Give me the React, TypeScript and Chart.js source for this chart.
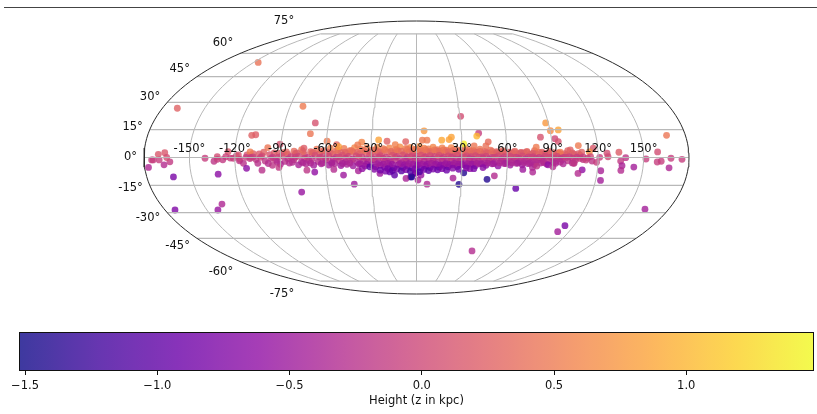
import React, { useEffect, useRef } from "react";
import { Chart, registerables } from "chart.js";

Chart.register(...registerables);

const FONT = "'DejaVu Sans'";
const lonTicks = [-150, -120, -90, -60, -30, 0, 30, 60, 90, 120, 150];
const latTicks = [75, 60, 45, 30, 15, 0, -15, -30, -45, -60, -75];
const colorTicks = [-1.5, -1, -0.5, 0, 0.5, 1];
const colorTickLabels = ["\u22121.5", "\u22121.0", "\u22120.5", "0.0", "0.5", "1.0"];
const colorMin = -1.523;
const colorMax = 1.483;
const colorTitle = "Height (z in kpc)";
const plasma = ["#0d0887", "#41049d", "#6a00a8", "#8f0da4", "#b12a90", "#cc4778", "#e16462", "#f2844b", "#fca636", "#fcce25", "#f0f921"];

// Outlying clusters
const farLon = [-145.8, -169.4, -80.9, -69.1, -71.2, -110.3, -107.7, -98.5, -90.6, -124.6, -110, -74.5, -59.5, -53, -51.6, -25.2, -19.6, -14.1, -36.4, -39, -7.2, -166.4, -170.6];
const farLat = [54, 26.7, 27.8, 18.6, 12.8, 11.9, 12.2, 5.3, 7.1, 3.1, 3, 5, 8.7, 6.9, 5.8, 9.4, 8.7, 6.9, 8.2, 6.7, 8.5, 2.6, 1.7];
const farZ = [0.42, 0.25, 0.5, 0.1, 0.45, 0.25, 0.22, 0.45, 0.1, 0.15, 0.5, 0.2, 0.5, 0.3, 0.8, 0.85, 0.25, 0.55, 0.6, 0.5, 0.25, 0.15, 0.15];

const eastLon = [30.6, 88.2, 90.2, 95.6, 41.7, 40.3, 82.8, 92.3, 94.3, 167.4, 5.1, 3.9, 7, 16.8, 21.7, 23.3, 31.3, 47.7, 46, 38.2, 107.3, 79.3, 117, 114.3, 100, 101.7, 95, 109.2, 125.9, 133.8, 159.4];
const eastLat = [22.2, 18.6, 14.4, 14.8, 13, 11.5, 10.9, 10.1, 8.5, 11.9, 14.3, 9.3, 9.3, 9.3, 9.6, 10.9, 7.3, 8.4, 6.2, 6.2, 6.4, 5.5, 5, 3, 3.7, 4, 2.8, 2.8, 2.3, 2.8, 3];
const eastZ = [0.05, 0.75, 0.65, 0.85, -0.1, 1, 0.1, 0, 0.1, 0.45, 0.75, 0.5, 0.5, 0.9, 0.85, 0.85, 1.4, 0.35, 0.4, 0.45, 0.5, 0.5, 0.15, 0.7, 0.25, 0.25, 0.5, 0.25, 0.05, 0.2, 0.05];

const rimLon = [138.2, 151.6, 168.1, 175.4, 159.1, 161.7, 134.9, 119, 136, 143.9, 167.3, 135.6, 122.3, 109.9, 107.4, 123.3, 126.5, 103.8, 112, -175, -174, -170, -163, -165, -177.5, -167, -139.7, -133.8, -131.6, -131.6, -121, -117.7, -116.6, -114.4, -112.6, -109.5];
const rimLat = [-0.1, -0.8, -0.4, -1, -2.4, -2, -1.9, -2.6, -4.4, -5.1, -5.5, -6.9, -7.1, -6.6, -8.5, -12.3, 0.4, -3, -1.4, -1.3, -1.3, -1.3, -2.3, 0, -5.3, -3.9, -0.4, -2, 0.4, -1, -0.4, 1.4, -1, -3.1, 0.1, 0.1];
const rimZ = [-0.2, -0.1, -0.1, -0.1, -0.1, -0.1, -0.15, -0.1, -0.4, -0.45, -0.35, -0.3, -0.4, -0.6, -0.3, -0.45, 0, -0.2, -0.1, -0.1, -0.1, -0.1, -0.15, 0.05, -0.35, -0.3, -0.1, -0.2, 0.05, -0.1, -0.1, 0.1, -0.1, -0.25, -0.1, -0.1];

const southLon = [163.1, 113.2, 111.1, 50.3, 67.3, 47.2, 28.6, 51.9, 24.4, 31.4, 7.1, 1, 3, -0.5, -3.2, 70.5, 77.2, 76.8, 87, 90.3, 79.6, 104.2, 35.4];
const southLat = [-28.1, -37.5, -41, -52.9, -16.6, -11.7, -14.4, -9.8, -11, -8.2, -14.3, -12.1, -9.4, -8.2, -10.4, -6.4, -7.8, -5.3, -3.9, -5, -4.6, -3.1, -6];
const southZ = [-0.45, -0.8, -0.45, -0.3, -0.95, -1.4, -1.4, -0.3, -0.4, -1.4, -0.35, -0.4, -0.55, -0.7, -1.4, -0.5, -0.35, -0.35, -0.6, -0.3, -0.2, -0.2, -0.6];

const swLon = [-172.8, -162.2, -132, -142.1, -136.7, -78.4, -41.9, -112.6, -102.5, -67.6, -72.7, -48.6, -54.8, -38.6, -91.1, -95.3, -104.9, -24.3, -20.4, -17.6, -14.6, -30.9, -3.9, -7, -1];
const swLat = [-28.5, -10.4, -8.9, -28.5, -25.2, -18.6, -14.3, -5.8, -6.8, -7.8, -6.8, -9.4, -6.4, -7.1, -5.3, -4.2, -3.1, -8.5, -7.3, -7.7, -9.4, -5, -10.4, -11.2, -8.5];
const swZ = [-0.75, -0.8, -0.65, -0.55, -0.35, -0.55, -0.5, -0.65, -0.25, -0.6, -0.2, -0.5, -0.3, -0.4, -0.15, -0.2, -0.25, -0.5, -0.8, -0.9, -1, -1, -1.3, -0.4, -0.5];

// Disc band, from its orange upper edge down to its violet lower edge
const upperLon = [-88, -81, -76, -70, -66, -61, -57, -52, -48, -44, -41, -37, -33, -29, -26, -22, -18, -14, -11, -7, -4, -1, 2, 5, 8, 11, 14, 17, 20, 23, 26, 29, 32, 35, 38, 42, 45, 49, 53, 57, 61, 65, 69, 73, 78, 83, 88, 93];
const upperLat = [2.6, 3.4, 4.2, 3.1, 4.4, 3.7, 5, 4.1, 4.8, 3.6, 5.3, 4.4, 5.1, 4, 5.6, 4.7, 5.2, 4.2, 5.7, 4.8, 5.4, 4.3, 5.9, 5, 4.6, 5.5, 4.2, 5.1, 3.9, 5.3, 4.5, 3.8, 5, 4.1, 3.6, 4.4, 3.3, 3.9, 3.1, 3.6, 2.9, 3.4, 2.7, 3.2, 3.6, 2.8, 3.3, 2.5];
const upperZ = [0.3, 0.35, 0.45, 0.3, 0.45, 0.4, 0.55, 0.45, 0.5, 0.4, 0.6, 0.5, 0.55, 0.45, 0.65, 0.5, 0.6, 0.45, 0.65, 0.5, 0.6, 0.45, 0.7, 0.55, 0.5, 0.6, 0.45, 0.55, 0.4, 0.6, 0.5, 0.4, 0.55, 0.45, 0.35, 0.45, 0.3, 0.4, 0.3, 0.35, 0.25, 0.3, 0.25, 0.3, 0.35, 0.25, 0.3, 0.2];

const coralLon = [-112, -104, -97, -91, -85, -79, -74, -69, -64, -59, -55, -50, -46, -42, -38, -34, -30, -26, -23, -19, -15, -12, -8, -5, -2, 1, 4, 7, 10, 13, 16, 19, 22, 25, 28, 31, 34, 37, 40, 44, 47, 51, 55, 59, 63, 67, 71, 75, 79, 83, 87, 91, 95, 99, 104, 108];
const coralLat = [1.4, 1.9, 1.5, 2.3, 1.7, 2.4, 1.6, 2.6, 2, 2.8, 1.8, 2.7, 2.2, 3, 1.9, 2.8, 2.3, 3.2, 2, 2.9, 2.4, 3.3, 2.1, 3, 2.5, 3.4, 2.2, 3.1, 2.6, 3.5, 2.3, 3, 2, 2.8, 2.4, 1.9, 2.7, 2.1, 2.9, 1.8, 2.5, 2, 2.7, 1.7, 2.4, 1.9, 2.6, 1.6, 2.3, 1.8, 2.2, 1.5, 1.9, 1.4, 1.8, 1.3];
const coralZ = [0.1, 0.15, 0.1, 0.2, 0.15, 0.2, 0.1, 0.25, 0.15, 0.25, 0.15, 0.25, 0.2, 0.3, 0.15, 0.25, 0.2, 0.3, 0.15, 0.25, 0.2, 0.3, 0.2, 0.25, 0.2, 0.3, 0.2, 0.3, 0.25, 0.3, 0.2, 0.3, 0.15, 0.25, 0.2, 0.15, 0.25, 0.15, 0.25, 0.15, 0.2, 0.15, 0.25, 0.1, 0.2, 0.15, 0.2, 0.1, 0.2, 0.15, 0.2, 0.1, 0.15, 0.1, 0.15, 0.1];

const salmonLon = [-108, -101, -94, -86, -80, -75, -68, -63, -57, -53, -47, -43, -39, -35, -31, -27, -24, -21, -17, -13, -10, -6, -3, 0, 3, 6, 9, 12, 15, 18, 21, 24, 27, 30, 33, 36, 39, 42, 46, 50, 53, 57, 61, 65, 69, 73, 77, 81, 85, 90, 94, 98, 103, 107];
const salmonLat = [2.1, 2.8, 2.4, 3, 2.2, 3.2, 2.6, 3.4, 2.4, 3.5, 2.8, 3.6, 2.7, 3.8, 2.9, 4, 3, 4.1, 3.2, 4.2, 3.4, 4.3, 3.5, 4.4, 3.6, 4.2, 3.3, 4.1, 3.4, 4, 3.1, 3.8, 3, 3.6, 3, 3.4, 2.8, 3.3, 2.7, 3.2, 2.6, 3, 2.5, 2.9, 2.4, 2.8, 2.3, 2.9, 2.2, 2.7, 2.3, 2.1, 2.4, 2];
const salmonZ = [0.2, 0.25, 0.2, 0.3, 0.2, 0.3, 0.25, 0.35, 0.25, 0.35, 0.3, 0.4, 0.3, 0.4, 0.3, 0.4, 0.3, 0.45, 0.35, 0.45, 0.35, 0.45, 0.35, 0.5, 0.4, 0.45, 0.35, 0.45, 0.35, 0.45, 0.3, 0.4, 0.3, 0.4, 0.3, 0.35, 0.3, 0.35, 0.25, 0.35, 0.25, 0.3, 0.25, 0.3, 0.2, 0.3, 0.2, 0.3, 0.2, 0.25, 0.2, 0.2, 0.2, 0.2];

const midLon = [-126, -119, -108, -102, -95, -89, -83, -78, -72, -67, -62, -58, -53, -49, -45, -40, -36, -31, -27, -24, -20, -16, -13, -9, -6, -3, 0, 3, 6, 9, 12, 15, 18, 21, 24, 27, 30, 33, 36, 39, 43, 46, 50, 54, 58, 62, 66, 70, 74, 77, 81, 85, 89, 93, 97, 101, 106, 110, 115, 121];
const midLat = [0.4, 0.8, 0.3, 0.9, 0.2, 1, 0.4, 0.7, 0.1, 1.1, 0.5, 0.8, 0.2, 1.2, 0.6, 0.9, 0.3, 1.3, 0.5, 1, 0.2, 1.1, 0.6, 1.3, 0.3, 0.9, 0.7, 1.2, 0.4, 1, 0.6, 1.1, 0.3, 0.9, 0.5, 1.2, 0.2, 0.8, 0.4, 1, 0.3, 0.7, 0.1, 0.9, 0.4, 0.6, 0.2, 0.8, 0.3, 0.5, 0.1, 0.7, 0.2, 0.6, 0.1, 0.4, 0.2, 0.3, 0.5, 0.1];
const midZ = [-0.05, 0, -0.05, 0.05, -0.1, 0.05, -0.05, 0, -0.1, 0.05, -0.05, 0, -0.1, 0.1, 0, 0.05, -0.05, 0.1, 0, 0.05, -0.05, 0.1, 0, 0.1, -0.05, 0.05, 0, 0.1, -0.05, 0.05, 0, 0.1, -0.05, 0.05, 0, 0.1, -0.05, 0.05, 0, 0.05, -0.05, 0, -0.1, 0.05, -0.05, 0, -0.1, 0.05, -0.05, 0, -0.1, 0, -0.1, 0, -0.1, -0.05, -0.1, -0.1, 0, -0.1];

const roseLon = [-123, -110, -103, -96, -91, -85, -80, -74, -69, -64, -60, -55, -51, -47, -42, -38, -33, -29, -25, -22, -18, -14, -11, -7, -4, -1, 2, 5, 8, 11, 14, 17, 20, 23, 26, 29, 32, 35, 38, 41, 44, 48, 52, 56, 60, 64, 68, 72, 76, 79, 83, 87, 91, 95, 99, 103, 108, 113];
const roseLat = [-0.3, -0.6, 0.1, -0.5, 0.2, -0.7, 0.2, -0.4, -0.8, 0.1, -0.5, -0.9, 0.3, -0.4, -0.8, 0.2, -0.6, -0.9, 0.1, -0.5, -1, 0.2, -0.6, -0.8, 0.3, -0.5, -1, 0.1, -0.7, -0.9, 0.2, -0.5, -1.1, 0, -0.7, -0.9, 0.1, -0.6, -1, 0.2, -0.4, -0.8, 0, -0.6, -0.9, 0.1, -0.5, -0.8, 0, -0.4, -0.7, 0.1, -0.5, -0.6, 0, -0.4, -0.5, -0.3];
const roseZ = [-0.1, -0.15, -0.05, -0.15, -0.05, -0.15, -0.05, -0.1, -0.2, -0.05, -0.1, -0.2, 0, -0.1, -0.2, 0, -0.15, -0.2, -0.05, -0.1, -0.2, 0, -0.15, -0.2, 0, -0.1, -0.2, 0, -0.15, -0.2, 0, -0.1, -0.2, -0.05, -0.15, -0.2, 0, -0.15, -0.2, 0, -0.1, -0.2, -0.05, -0.15, -0.2, 0, -0.1, -0.2, -0.05, -0.1, -0.15, 0, -0.1, -0.15, -0.05, -0.1, -0.1, -0.1];

const pinkLon = [-128, -117, -106, -100, -93, -87, -81, -76, -71, -65, -60, -56, -51, -47, -43, -39, -35, -32, -28, -25, -21, -17, -14, -10, -7, -4, -1, 2, 5, 8, 11, 14, 17, 20, 23, 26, 29, 32, 35, 38, 41, 45, 48, 52, 56, 60, 64, 68, 72, 76, 80, 84, 88, 92, 96, 100, 105, 110, 116];
const pinkLat = [-1.2, -1.8, -1.1, -1.9, -1.4, -2.1, -1.2, -2.3, -1.6, -2.2, -1.3, -2.5, -1.7, -2.3, -1.4, -2.6, -1.8, -2.4, -1.3, -2.7, -1.9, -2.5, -1.5, -2.8, -2, -2.6, -1.6, -2.9, -2.1, -2.7, -1.8, -2.6, -2, -2.8, -1.7, -2.5, -2.1, -2.9, -1.6, -2.4, -1.9, -2.7, -1.5, -2.3, -1.8, -2.6, -1.4, -2.2, -1.7, -2.4, -1.3, -2, -1.6, -2.2, -1.2, -1.8, -1.4, -1.1, -1.9];
const pinkZ = [-0.15, -0.2, -0.15, -0.2, -0.15, -0.25, -0.15, -0.3, -0.2, -0.25, -0.15, -0.3, -0.2, -0.3, -0.2, -0.3, -0.25, -0.3, -0.15, -0.35, -0.25, -0.3, -0.2, -0.35, -0.25, -0.35, -0.2, -0.35, -0.3, -0.35, -0.25, -0.35, -0.25, -0.35, -0.2, -0.3, -0.25, -0.35, -0.2, -0.3, -0.25, -0.35, -0.2, -0.3, -0.25, -0.3, -0.2, -0.3, -0.2, -0.3, -0.15, -0.25, -0.2, -0.25, -0.15, -0.2, -0.15, -0.15, -0.2];

const violetLon = [-98, -90, -84, -78, -73, -68, -63, -58, -54, -50, -46, -42, -38, -34, -30, -27, -24, -21, -18, -15, -12, -9, -6, -3, 0, 3, 6, 9, 12, 15, 18, 21, 24, 27, 30, 33, 36, 39, 42, 46, 50, 54, 58, 62, 66, 70, 74, 78, 82, 86, 92, 97, 103];
const violetLat = [-3.2, -3.6, -3, -3.9, -3.3, -4.1, -3.4, -4, -3.2, -4.3, -3.6, -4.4, -3.5, -4.6, -3.8, -5, -4.1, -5.2, -4.3, -5.5, -4, -5.3, -4.4, -5.6, -4.2, -5.8, -4.5, -5.4, -4, -5.2, -4.2, -5, -3.9, -4.8, -3.7, -4.6, -3.5, -4.4, -3.3, -4.2, -3.4, -4.5, -3.2, -4, -3.1, -3.9, -3.3, -3.8, -3, -3.5, -3.1, -3.4, -2.9];
const violetZ = [-0.3, -0.35, -0.3, -0.4, -0.35, -0.45, -0.4, -0.45, -0.35, -0.5, -0.4, -0.5, -0.45, -0.6, -0.5, -0.7, -0.55, -0.75, -0.6, -0.8, -0.55, -0.8, -0.65, -0.85, -0.6, -0.9, -0.65, -0.8, -0.6, -0.8, -0.6, -0.75, -0.55, -0.7, -0.55, -0.7, -0.5, -0.65, -0.45, -0.6, -0.45, -0.6, -0.4, -0.5, -0.4, -0.5, -0.4, -0.45, -0.35, -0.4, -0.35, -0.35, -0.3];

const mauveLon = [-92, -82, -75, -70, -62, -56, -49, -44, -37, -33, -26, -22, -19, -16, -11, -8, -5, -2, 1, 4, 7, 10, 13, 16, 19, 22, 25, 28, 31, 34, 37, 40, 43, 47, 51, 55, 59, 63, 67, 71, 75, 79, 84, 90, 95];
const mauveLat = [-2.4, -2.6, -2.8, -3, -2.9, -3.1, -3.2, -3, -3.3, -3.5, -3.4, -3.6, -3.2, -3.7, -3.4, -3.8, -3.3, -3.6, -3.9, -3.5, -3.7, -3.2, -3.6, -3.9, -3.4, -3.7, -3.2, -3.5, -3.8, -3.3, -3.6, -3.1, -3.4, -3, -3.3, -2.9, -3.2, -2.8, -3, -2.7, -2.9, -2.6, -2.7, -2.5, -2.4];
const mauveZ = [-0.3, -0.3, -0.35, -0.35, -0.35, -0.4, -0.4, -0.35, -0.45, -0.5, -0.45, -0.5, -0.45, -0.55, -0.45, -0.55, -0.45, -0.5, -0.6, -0.5, -0.55, -0.45, -0.5, -0.6, -0.5, -0.55, -0.45, -0.5, -0.55, -0.45, -0.5, -0.4, -0.45, -0.4, -0.45, -0.35, -0.4, -0.35, -0.4, -0.35, -0.35, -0.3, -0.3, -0.3, -0.3];

const deepLon = [-36, -28, -24, -19, -16, -13, -10, -7, -4, -1, 2, 5, 8, 11, 14, 17, 20, 24, 28, 33, 38, 44];
const deepLat = [-6, -6.3, -6.8, -5.9, -7, -6.2, -7.2, -6.5, -7.4, -6.1, -7.6, -6.4, -7, -6.2, -6.6, -6, -6.8, -5.7, -6.3, -5.6, -6, -5.4];
const deepZ = [-0.6, -0.7, -0.85, -0.8, -1, -0.8, -1.05, -0.8, -1.1, -0.75, -1.15, -0.85, -1, -0.8, -0.9, -0.75, -0.9, -0.7, -0.85, -0.7, -0.8, -0.65];

const groups = [
  [upperLon, upperLat, upperZ],
  [coralLon, coralLat, coralZ],
  [salmonLon, salmonLat, salmonZ],
  [farLon, farLat, farZ],
  [eastLon, eastLat, eastZ],
  [midLon, midLat, midZ],
  [roseLon, roseLat, roseZ],
  [pinkLon, pinkLat, pinkZ],
  [violetLon, violetLat, violetZ],
  [mauveLon, mauveLat, mauveZ],
  [rimLon, rimLat, rimZ],
  [swLon, swLat, swZ],
  [southLon, southLat, southZ],
  [deepLon, deepLat, deepZ],
];

const SQ2 = Math.SQRT2;

function mollweide(lon: number, lat: number) {
  const phi = (lat * Math.PI) / 180;
  let theta = phi;
  for (let i = 0; i < 40; i++) {
    const d = 2 * theta + Math.sin(2 * theta) - Math.PI * Math.sin(phi);
    const den = 2 + 2 * Math.cos(2 * theta);
    if (Math.abs(den) < 1e-9) break;
    theta -= d / den;
  }
  return { x: ((2 * SQ2) / 180) * lon * Math.cos(theta), y: SQ2 * Math.sin(theta) };
}

function hex(c: string) {
  return [1, 3, 5].map((i) => parseInt(c.slice(i, i + 2), 16));
}

function plasmaAt(t: number, alpha = 0.8) {
  const u = Math.max(0, Math.min(1, t)) * (plasma.length - 1);
  const i = Math.min(plasma.length - 2, Math.floor(u));
  const a = hex(plasma[i]);
  const b = hex(plasma[i + 1]);
  const m = a.map((v, k) => Math.round(v + (b[k] - v) * (u - i)));
  return `rgba(${m[0]},${m[1]},${m[2]},${alpha})`;
}

const norm = (z: number) => (z - colorMin) / (colorMax - colorMin);

function range(a: number, b: number, step: number) {
  const out: number[] = [];
  for (let v = a; v <= b + 1e-9; v += step) out.push(v);
  return out;
}

const GRID = "#b8b8b8";

export default function App() {
  const skyRef = useRef<HTMLCanvasElement>(null);
  const barRef = useRef<HTMLCanvasElement>(null);

  useEffect(() => {
    const pts: { x: number; y: number }[] = [];
    const cols: string[] = [];
    groups.forEach(([lo, la, zz]) => {
      lo.forEach((l, i) => {
        pts.push(mollweide(l, la[i]));
        cols.push(plasmaAt(norm(zz[i])));
      });
    });

    const gridSets: any[] = [];
    latTicks.forEach((lat) => {
      const edge = Math.abs(lat) === 75 ? 150 : 180;
      gridSets.push({
        data: [mollweide(-edge, lat), mollweide(edge, lat)],
        showLine: true, borderColor: GRID, borderWidth: 1.2, pointRadius: 0, order: 1, clip: false,
      });
    });
    lonTicks.forEach((lon) => {
      gridSets.push({
        data: range(-75, 75, 3).map((lat) => mollweide(lon, lat)),
        showLine: true, borderColor: GRID, borderWidth: 1, pointRadius: 0, order: 1, clip: false,
      });
    });
    const outline = {
      data: range(0, 360, 2).map((t) => ({
        x: 2 * SQ2 * Math.cos((t * Math.PI) / 180),
        y: SQ2 * Math.sin((t * Math.PI) / 180),
      })),
      showLine: true, borderColor: "#2a2a2a", borderWidth: 1, pointRadius: 0, order: 0, clip: false,
    };

    const labelPlugin = {
      id: "geoLabels",
      afterDatasetsDraw(c: any) {
        const { ctx, scales } = c;
        const px = (v: number) => scales.x.getPixelForValue(v);
        const py = (v: number) => scales.y.getPixelForValue(v);
        ctx.save();
        ctx.font = `11.5px ${FONT}`;
        ctx.fillStyle = "#111";
        ctx.textBaseline = "middle";
        ctx.textAlign = "center";
        lonTicks.forEach((lon) => {
          ctx.fillText(`${lon}\u00b0`, px(mollweide(lon, 0).x), py(0) - 8.5);
        });
        ctx.textAlign = "right";
        latTicks.forEach((lat) => {
          const p = mollweide(-180, lat);
          ctx.fillText(`${lat}\u00b0`, px(p.x) - 7, py(p.y * 1.1));
        });
        ctx.restore();
      },
    };

    const sky = new Chart(skyRef.current!, {
      type: "scatter",
      data: {
        datasets: [
          outline,
          ...gridSets,
          { data: pts, backgroundColor: cols, borderWidth: 0, pointRadius: 3.4, order: 2, clip: false },
        ],
      },
      options: {
        animation: false,
        responsive: false,
        events: [],
        layout: { padding: { left: 144, right: 128, top: 21, bottom: 26 } },
        plugins: { legend: { display: false }, tooltip: { enabled: false } },
        scales: {
          x: { type: "linear", min: -2 * SQ2, max: 2 * SQ2, display: false },
          y: { type: "linear", min: -SQ2, max: SQ2, display: false },
        },
      },
      plugins: [labelPlugin],
    } as any);

    const framePlugin = {
      id: "frame",
      afterDatasetsDraw(c: any) {
        const { ctx, chartArea: a } = c;
        ctx.save();
        ctx.strokeStyle = "#111";
        ctx.lineWidth = 1;
        ctx.strokeRect(Math.round(a.left) + 0.5, Math.round(a.top) + 0.5, a.right - a.left - 1, a.bottom - a.top - 1);
        ctx.restore();
      },
    };

    const bar = new Chart(barRef.current!, {
      type: "bar",
      data: {
        labels: ["z"],
        datasets: [
          {
            data: [[colorMin, colorMax]],
            barPercentage: 1,
            categoryPercentage: 1,
            borderWidth: 0,
            backgroundColor: (ctx: any) => {
              const a = ctx.chart.chartArea;
              if (!a) return "#888";
              const g = ctx.chart.ctx.createLinearGradient(a.left, 0, a.right, 0);
              for (let i = 0; i <= 60; i++) g.addColorStop(i / 60, plasmaAt(i / 60));
              return g;
            },
          },
        ],
      },
      options: {
        animation: false,
        responsive: false,
        events: [],
        indexAxis: "y",
        layout: { padding: { left: 19, right: 3, top: 12, bottom: 0 } },
        plugins: { legend: { display: false }, tooltip: { enabled: false } },
        scales: {
          y: { display: false },
          x: {
            type: "linear",
            min: colorMin,
            max: colorMax,
            afterFit: (s: any) => { s.height = 43; },
            afterBuildTicks: (s: any) => { s.ticks = colorTicks.map((value) => ({ value })); },
            border: { display: false },
            grid: { drawOnChartArea: false, drawTicks: true, tickLength: 4, tickColor: "#111", tickWidth: 1 },
            ticks: {
              maxRotation: 0,
              autoSkip: false,
              padding: 4,
              color: "#111",
              font: { family: FONT, size: 11.5 },
              callback: (v: any) => colorTickLabels[colorTicks.indexOf(Number(v))],
            },
            title: { display: true, text: colorTitle, color: "#111", font: { family: FONT, size: 11.5 }, padding: { top: 2, bottom: 6 } },
          },
        },
      },
      plugins: [framePlugin],
    } as any);

    return () => {
      sky.destroy();
      bar.destroy();
    };
  }, []);

  return (
    <div style={{ position: "absolute", left: 0, top: 0, width: 817, height: 414, background: "#fff", overflow: "hidden" }}>
      <div style={{ position: "absolute", left: 4, top: 7, width: 813, height: 1, background: "#444" }} />
      <canvas ref={skyRef} width={817} height={320} style={{ position: "absolute", left: 0, top: 0, width: 817, height: 320 }} />
      <canvas ref={barRef} width={817} height={94} style={{ position: "absolute", left: 0, top: 320, width: 817, height: 94 }} />
    </div>
  );
}
